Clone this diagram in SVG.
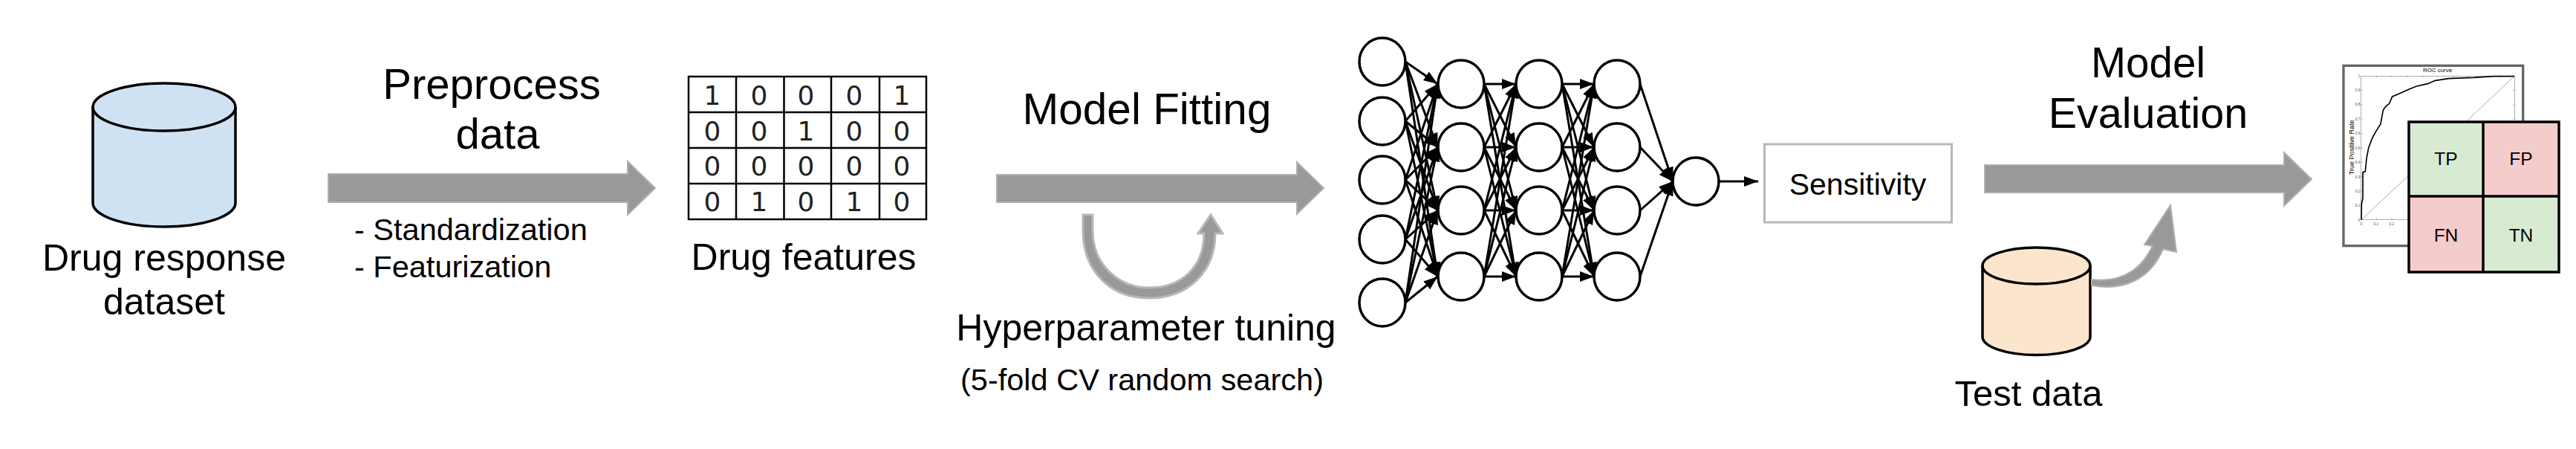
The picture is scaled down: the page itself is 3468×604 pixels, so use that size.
<svg xmlns="http://www.w3.org/2000/svg" width="3468" height="604" viewBox="0 0 3468 604">
<style>
text{font-family:"Liberation Sans",Arial,sans-serif;fill:#000}
.m{text-anchor:middle}
.cy{stroke:#000;stroke-width:3.5}
.big{fill:#999;stroke:#b0b0b0;stroke-width:2}
.nn{fill:#fff;stroke:#000;stroke-width:3.5}
.e line{stroke:#000;stroke-width:3;marker-end:url(#a)}
.d{font-family:"DejaVu Sans",sans-serif;font-size:36px;text-anchor:middle;fill:#222}
.g{fill:none;stroke:#000;stroke-width:2.5}
.tick{font-size:14px;fill:#444;text-anchor:end}
</style>
<defs>
<marker id="a" markerUnits="userSpaceOnUse" markerWidth="20" markerHeight="14" refX="19" refY="7" orient="auto"><path d="M0 0L19 7L0 14Z" fill="#000"/></marker>
</defs>
<rect width="3468" height="604" fill="#fff"/>

<g id="drug-response-dataset">
<path class="cy" fill="#cfe2f3" d="M125 144V273A96 32 0 0 0 317 273V144A96 32 0 0 0 125 144Z"/>
<path class="cy" fill="none" d="M125 144A96 32 0 0 0 317 144"/>
<text class="m" x="221" y="364" font-size="50">Drug response</text>
<text class="m" x="221" y="423" font-size="50">dataset</text>
</g>

<g id="preprocess-arrow">
<path class="big" d="M442 234H845V217L882 253L845 289V272H442Z"/>
<text class="m" x="662" y="133" font-size="58">Preprocess</text>
<text class="m" x="670" y="200" font-size="58">data</text>
<text x="477" y="323" font-size="41.500">- Standardization</text>
<text x="477" y="373" font-size="41.500">- Featurization</text>
</g>

<g id="drug-features">
<path class="g" d="M927 103H1247V295H927ZM991 103V295M1055.500 103V295M1119 103V295M1184 103V295M927 151H1247M927 199H1247M927 247H1247"/>
<text class="d" x="959" y="141">1</text><text class="d" x="1022" y="141">0</text><text class="d" x="1085" y="141">0</text><text class="d" x="1150" y="141">0</text><text class="d" x="1214" y="141">1</text>
<text class="d" x="959" y="189">0</text><text class="d" x="1022" y="189">0</text><text class="d" x="1085" y="189">1</text><text class="d" x="1150" y="189">0</text><text class="d" x="1214" y="189">0</text>
<text class="d" x="959" y="236">0</text><text class="d" x="1022" y="236">0</text><text class="d" x="1085" y="236">0</text><text class="d" x="1150" y="236">0</text><text class="d" x="1214" y="236">0</text>
<text class="d" x="959" y="284">0</text><text class="d" x="1022" y="284">1</text><text class="d" x="1085" y="284">0</text><text class="d" x="1150" y="284">1</text><text class="d" x="1214" y="284">0</text>
<text class="m" x="1082" y="363" font-size="50">Drug features</text>
</g>

<g id="model-fitting-arrow">
<path class="big" d="M1342 235H1746V218L1782 253L1746 288V272H1342Z"/>
<text class="m" x="1544" y="167" font-size="58.500">Model Fitting</text>
</g>

<g id="hyperparameter-loop">
<path fill="#999" stroke="#b7b7b7" stroke-width="3" d="M1458 289H1471V310C1471 355 1505 387 1547 387C1590 387 1621 360 1621 314H1613L1630 289L1646 314H1636C1636 365 1600 401 1547 401C1495 401 1458 365 1458 310Z"/>
<text class="m" x="1543" y="457.500" font-size="50">Hyperparameter tuning</text>
<text class="m" x="1537.500" y="525" font-size="41.500">(5-fold CV random search)</text>
</g>

<g id="connectors" class="e">
<line x1="1892" y1="83" x2="1935.500" y2="113"/><line x1="1892" y1="83" x2="1935.500" y2="198"/><line x1="1892" y1="83" x2="1935.500" y2="283"/><line x1="1892" y1="83" x2="1935.500" y2="372"/>
<line x1="1892" y1="163" x2="1935.500" y2="113"/><line x1="1892" y1="163" x2="1935.500" y2="198"/><line x1="1892" y1="163" x2="1935.500" y2="283"/><line x1="1892" y1="163" x2="1935.500" y2="372"/>
<line x1="1892" y1="242" x2="1935.500" y2="113"/><line x1="1892" y1="242" x2="1935.500" y2="198"/><line x1="1892" y1="242" x2="1935.500" y2="283"/><line x1="1892" y1="242" x2="1935.500" y2="372"/>
<line x1="1892" y1="322" x2="1935.500" y2="113"/><line x1="1892" y1="322" x2="1935.500" y2="198"/><line x1="1892" y1="322" x2="1935.500" y2="283"/><line x1="1892" y1="322" x2="1935.500" y2="372"/>
<line x1="1892" y1="407" x2="1935.500" y2="113"/><line x1="1892" y1="407" x2="1935.500" y2="198"/><line x1="1892" y1="407" x2="1935.500" y2="283"/><line x1="1892" y1="407" x2="1935.500" y2="372"/>

<line x1="1998" y1="113" x2="2041" y2="113"/><line x1="1998" y1="113" x2="2041" y2="198"/><line x1="1998" y1="113" x2="2041" y2="283"/><line x1="1998" y1="113" x2="2041" y2="372"/>
<line x1="1998" y1="198" x2="2041" y2="113"/><line x1="1998" y1="198" x2="2041" y2="198"/><line x1="1998" y1="198" x2="2041" y2="283"/><line x1="1998" y1="198" x2="2041" y2="372"/>
<line x1="1998" y1="283" x2="2041" y2="113"/><line x1="1998" y1="283" x2="2041" y2="198"/><line x1="1998" y1="283" x2="2041" y2="283"/><line x1="1998" y1="283" x2="2041" y2="372"/>
<line x1="1998" y1="372" x2="2041" y2="113"/><line x1="1998" y1="372" x2="2041" y2="198"/><line x1="1998" y1="372" x2="2041" y2="283"/><line x1="1998" y1="372" x2="2041" y2="372"/>

<line x1="2103" y1="113" x2="2146" y2="113"/><line x1="2103" y1="113" x2="2146" y2="198"/><line x1="2103" y1="113" x2="2146" y2="283"/><line x1="2103" y1="113" x2="2146" y2="372"/>
<line x1="2103" y1="198" x2="2146" y2="113"/><line x1="2103" y1="198" x2="2146" y2="198"/><line x1="2103" y1="198" x2="2146" y2="283"/><line x1="2103" y1="198" x2="2146" y2="372"/>
<line x1="2103" y1="283" x2="2146" y2="113"/><line x1="2103" y1="283" x2="2146" y2="198"/><line x1="2103" y1="283" x2="2146" y2="283"/><line x1="2103" y1="283" x2="2146" y2="372"/>
<line x1="2103" y1="372" x2="2146" y2="113"/><line x1="2103" y1="372" x2="2146" y2="198"/><line x1="2103" y1="372" x2="2146" y2="283"/><line x1="2103" y1="372" x2="2146" y2="372"/>

<line x1="2208" y1="113" x2="2252" y2="244"/><line x1="2208" y1="198" x2="2252" y2="244"/><line x1="2208" y1="283" x2="2252" y2="244"/><line x1="2208" y1="372" x2="2252" y2="244"/>
<line x1="2314" y1="244" x2="2367" y2="244"/>
</g>

<g id="n11"><ellipse class="nn" cx="1861" cy="83" rx="31" ry="32"/></g>
<g id="n12"><ellipse class="nn" cx="1861" cy="163" rx="31" ry="32"/></g>
<g id="n13"><ellipse class="nn" cx="1861" cy="242" rx="31" ry="32"/></g>
<g id="n14"><ellipse class="nn" cx="1861" cy="322" rx="31" ry="32"/></g>
<g id="n15"><ellipse class="nn" cx="1861" cy="407" rx="31" ry="32"/></g>
<g id="n21"><ellipse class="nn" cx="1967" cy="113" rx="31" ry="32"/></g>
<g id="n22"><ellipse class="nn" cx="1967" cy="198" rx="31" ry="32"/></g>
<g id="n23"><ellipse class="nn" cx="1967" cy="283" rx="31" ry="32"/></g>
<g id="n24"><ellipse class="nn" cx="1967" cy="372" rx="31" ry="32"/></g>
<g id="n31"><ellipse class="nn" cx="2072" cy="113" rx="31" ry="32"/></g>
<g id="n32"><ellipse class="nn" cx="2072" cy="198" rx="31" ry="32"/></g>
<g id="n33"><ellipse class="nn" cx="2072" cy="283" rx="31" ry="32"/></g>
<g id="n34"><ellipse class="nn" cx="2072" cy="372" rx="31" ry="32"/></g>
<g id="n41"><ellipse class="nn" cx="2177" cy="113" rx="31" ry="32"/></g>
<g id="n42"><ellipse class="nn" cx="2177" cy="198" rx="31" ry="32"/></g>
<g id="n43"><ellipse class="nn" cx="2177" cy="283" rx="31" ry="32"/></g>
<g id="n44"><ellipse class="nn" cx="2177" cy="372" rx="31" ry="32"/></g>
<g id="n5"><ellipse class="nn" cx="2283" cy="244" rx="31" ry="32"/></g>

<g id="sensitivity">
<rect x="2375.500" y="194" width="252" height="105" fill="#fff" stroke="#b7b7b7" stroke-width="3"/>
<text class="m" x="2501" y="262" font-size="41">Sensitivity</text>
</g>

<g id="model-evaluation-arrow">
<path class="big" d="M2672 222H3075V205L3112 241L3075 277V259H2672Z"/>
<text class="m" x="2892" y="104" font-size="56.500">Model</text>
<text class="m" x="2892" y="172" font-size="57.500">Evaluation</text>
</g>

<g id="test-data">
<path class="cy" fill="#fce5cd" d="M2669 357.500V453A72.500 24.500 0 0 0 2814 453V357.500A72.500 24.500 0 0 0 2669 357.500Z"/>
<path class="cy" fill="none" d="M2669 357.500A72.500 24.500 0 0 0 2814 357.500"/>
<text class="m" x="2731" y="546" font-size="49">Test data</text>
</g>

<g id="test-arrow">
<path fill="#999" stroke="#b0b0b0" stroke-width="2" d="M2816 376C2850 380 2880 368 2898 331L2887 329L2922 276L2930 339L2912 335C2895 375 2860 392 2816 384Z"/>
</g>

<g id="roc-curve" transform="translate(3130 70) scale(.33333)">
<rect x="75" y="55" width="725" height="727" fill="#fff" stroke="#666" stroke-width="10"/>
<text class="m" x="455" y="81" font-size="24" fill="#444">ROC curve</text>
<rect x="146" y="97" width="620" height="580" fill="none" stroke="#888" stroke-width="2"/>
<path d="M146 155h6M146 213h6M146 271h6M146 329h6M146 387h6M146 445h6M146 503h6M146 561h6M146 619h6M760 155h6M760 213h6M760 271h6M208 97v6M270 97v6M332 97v6M394 97v6M456 97v6M518 97v6M580 97v6M642 97v6M704 97v6M208 671v6M270 671v6" fill="none" stroke="#777" stroke-width="2"/>
<path d="M147 677L765 98" fill="none" stroke="#aaa" stroke-width="3"/>
<path d="M147 677L148 612L153 590L153 485L163 482L168 430L176 388L190 350L205 322L225 290L235 235L245 220L260 208L272 180L295 170L340 150L370 138L415 128L445 115L500 107L600 103L680 98L765 98" fill="none" stroke="#000" stroke-width="5"/>
<text class="tick" x="142" y="102">1</text><text class="tick" x="142" y="158">0.9</text><text class="tick" x="142" y="217">0.8</text><text class="tick" x="142" y="275">0.7</text><text class="tick" x="142" y="333">0.6</text><text class="tick" x="142" y="392">0.5</text><text class="tick" x="142" y="450">0.4</text><text class="tick" x="142" y="509">0.3</text><text class="tick" x="142" y="567">0.2</text><text class="tick" x="142" y="625">0.1</text><text class="tick" x="142" y="683">0</text>
<text class="tick" x="150" y="700">0</text><text class="tick" x="216" y="700">0.1</text><text class="tick" x="279" y="700">0.2</text>
<text class="m" transform="translate(116 385) rotate(-90)" font-size="27" fill="#444">True Positive Rate</text>
</g>

<g id="confusion-matrix">
<rect x="3243" y="164" width="100" height="100" fill="#d9ead3"/>
<rect x="3343" y="164" width="102" height="100" fill="#f4cccc"/>
<rect x="3243" y="264" width="100" height="102" fill="#f4cccc"/>
<rect x="3343" y="264" width="102" height="102" fill="#d9ead3"/>
<path d="M3243 164H3445V366H3243ZM3343 164V366M3243 264H3445" fill="none" stroke="#000" stroke-width="3.500"/>
<text class="m" x="3293" y="222" font-size="24.500">TP</text>
<text class="m" x="3394" y="222" font-size="24.500">FP</text>
<text class="m" x="3293" y="325" font-size="24.500">FN</text>
<text class="m" x="3394" y="325" font-size="24.500">TN</text>
</g>
</svg>
